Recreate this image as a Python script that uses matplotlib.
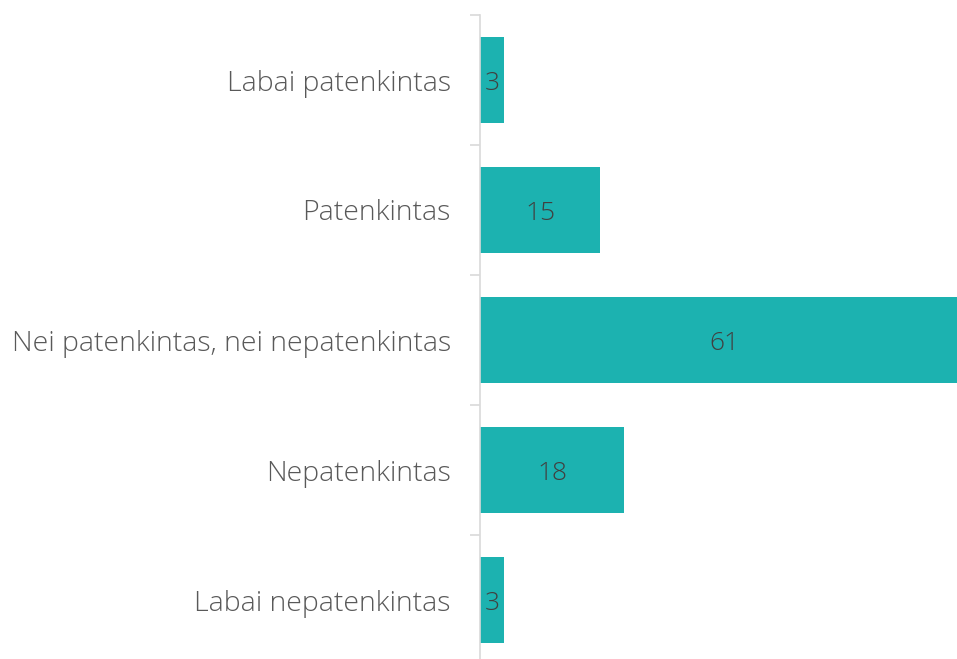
import matplotlib
matplotlib.use("Agg")
import matplotlib.pyplot as plt
from matplotlib.ticker import FixedLocator

categories = ["Labai patenkintas", "Patenkintas", "Nei patenkintas, nei nepatenkintas",
              "Nepatenkintas", "Labai nepatenkintas"]
values = [3, 15, 61, 18, 3]

plt.rcParams['font.family'] = ['Open Sans', 'DejaVu Sans']

fig = plt.figure(figsize=(9.57, 6.59), dpi=100)
ax = fig.add_axes([480 / 957, -6 / 659, 477 / 957, 650 / 659])

pos = list(range(len(categories)))
bars = ax.barh(pos, values, height=0.66, color="#1CB2B0")
for b, v in zip(bars, values):
    ax.text(b.get_width() / 2, b.get_y() + b.get_height() / 2, str(v),
            ha="center", va="center_baseline", fontsize=19, color="#404040", fontweight="light")

ax.set_xlim(0, 59.6)
ax.set_ylim(len(categories) - 0.5, -0.5)
ax.set_yticks(pos)
ax.set_yticklabels(categories, fontsize=20.5, color="#595959", fontweight="light")
ax.tick_params(axis="y", which="major", length=0, pad=21)
ax.yaxis.set_minor_locator(FixedLocator([p - 0.5 for p in pos] + [len(pos) - 0.5]))
ax.tick_params(axis="y", which="minor", length=7, color="#d9d9d9", width=1.2)
ax.set_xticks([])
for s in ["top", "right", "bottom"]:
    ax.spines[s].set_visible(False)
ax.spines["left"].set_color("#d9d9d9")
ax.spines["left"].set_linewidth(1.2)

fig.savefig("out.png", dpi=100)
